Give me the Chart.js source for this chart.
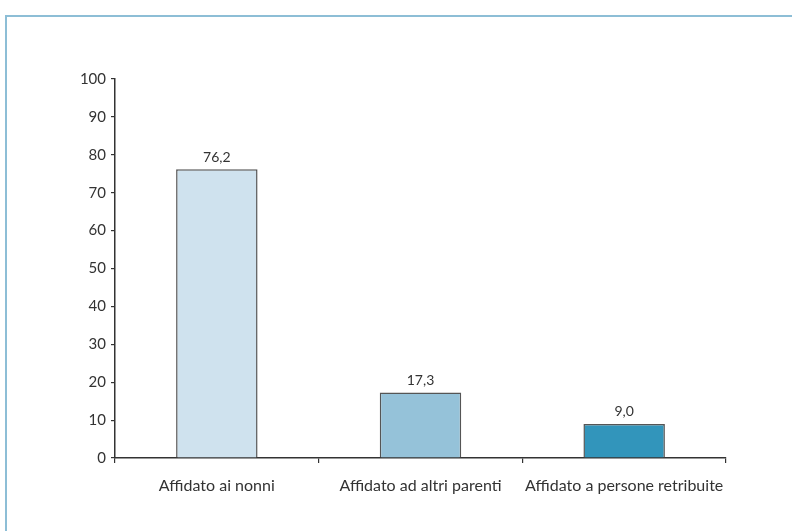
<!DOCTYPE html>
<html>
<head>
<meta charset="utf-8">
<script src="https://cdn.jsdelivr.net/npm/chart.js@4/dist/chart.umd.min.js"></script>
<style>
  html, body { margin: 0; padding: 0; background: #fff; }
  #wrap { width: 792px; height: 531px; }
</style>
</head>
<body>
<div id="wrap"><canvas id="chart" width="792" height="531"></canvas></div>
<script>
const categories = ['Affidato ai nonni', 'Affidato ad altri parenti', 'Affidato a persone retribuite'];
const values = [76.2, 17.3, 9.0];
const barColors = ['#cfe2ee', '#95c2d9', '#3295bb'];
const yTicks = [0, 10, 20, 30, 40, 50, 60, 70, 80, 90, 100];

const textFont = "'Lato', 'Open Sans', sans-serif";

// frame: thin blue border on the top and left edge
const framePlugin = {
  id: 'frame',
  beforeDraw(chart) {
    const ctx = chart.ctx;
    ctx.save();
    ctx.fillStyle = '#fff';
    ctx.fillRect(0, 0, chart.width, chart.height);
    ctx.strokeStyle = '#8dbed6';
    ctx.lineWidth = 2;
    ctx.beginPath();
    ctx.moveTo(6, chart.height);
    ctx.lineTo(6, 16);
    ctx.lineTo(chart.width, 16);
    ctx.stroke();
    ctx.restore();
  }
};

// value above each bar, Italian decimal comma
const valueLabels = {
  id: 'valueLabels',
  afterDatasetsDraw(chart) {
    const ctx = chart.ctx;
    const meta = chart.getDatasetMeta(0);
    ctx.save();
    ctx.font = '14px ' + textFont;
    ctx.fillStyle = '#333';
    ctx.textAlign = 'center';
    ctx.textBaseline = 'bottom';
    meta.data.forEach((bar, i) => {
      ctx.fillText(values[i].toFixed(1).replace('.', ','), bar.x, bar.y - 5);
    });
    ctx.restore();
  }
};

new Chart(document.getElementById('chart'), {
  type: 'bar',
  data: {
    labels: categories,
    datasets: [{
      data: values,
      backgroundColor: barColors,
      borderColor: '#555',
      borderWidth: 1.5,
      borderSkipped: 'bottom',
      categoryPercentage: 0.4,
      barPercentage: 1
    }]
  },
  options: {
    responsive: false,
    animation: false,
    layout: { padding: { left: 0, top: 79, right: 66, bottom: 0 } },
    plugins: {
      legend: { display: false },
      tooltip: { enabled: false }
    },
    scales: {
      x: {
        offset: true,
        grid: { offset: true, drawOnChartArea: false, tickLength: 5, color: '#333', lineWidth: 1.2 },
        border: { display: true, color: '#333', width: 1.5 },
        ticks: { color: '#333', font: { family: textFont, size: 16 }, padding: 13, maxRotation: 0 },
        afterFit(scale) { scale.height = 73; }
      },
      y: {
        min: 0,
        max: 100,
        afterBuildTicks(scale) { scale.ticks = yTicks.map(v => ({ value: v })); },
        grid: { drawOnChartArea: false, tickLength: 4, color: '#333', lineWidth: 1.2 },
        border: { display: true, color: '#333', width: 1.5 },
        ticks: { color: '#333', font: { family: textFont, size: 15 }, padding: 5 },
        afterFit(scale) { scale.width = 115; }
      }
    }
  },
  plugins: [framePlugin, valueLabels]
});
</script>
</body>
</html>
